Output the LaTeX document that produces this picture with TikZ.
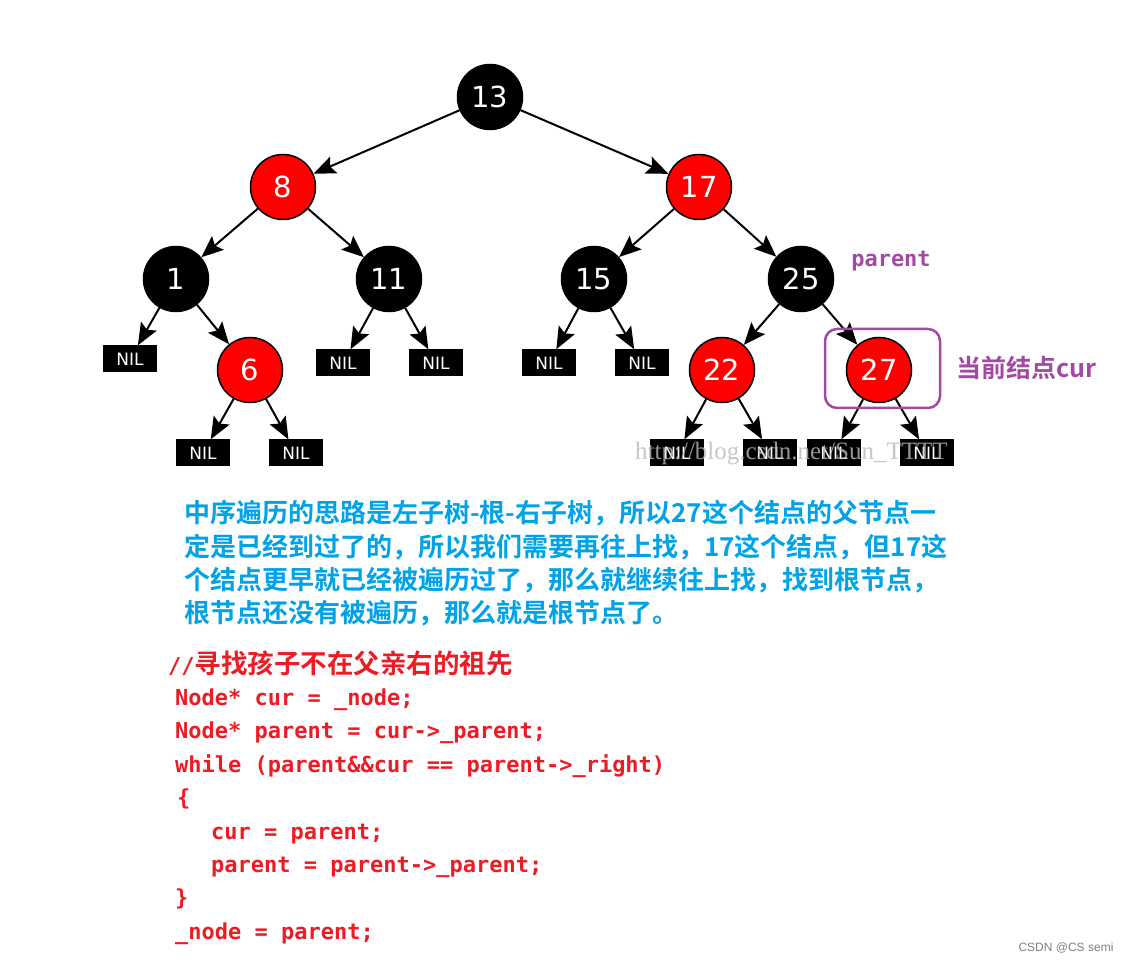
\documentclass[tikz,border=0pt]{standalone}
\usepackage{fontspec}
\usetikzlibrary{arrows.meta}
\newfontfamily\numfont{DejaVu Sans}
\newfontfamily\monof{DejaVu Sans Mono}
\newfontfamily\cjk{Noto Sans CJK SC}[BoldFont={Noto Sans CJK SC Bold}]
\newfontfamily\wmfont{Liberation Serif}
\newfontfamily\credfont{Liberation Sans}
\definecolor{nodered}{RGB}{255,0,0}
\definecolor{hlpurple}{RGB}{163,73,164}
\definecolor{txtblue}{RGB}{0,162,232}
\definecolor{codered}{RGB}{237,28,36}
\tikzset{
  rbnode/.style={circle, draw=black, line width=1.5pt, minimum size=65pt, inner sep=0pt,
    text=white, font=\numfont\fontsize{29}{29}\selectfont},
  rnode/.style={rbnode, fill=nodered},
  bnode/.style={rbnode, fill=black},
  nilbox/.style={rectangle, fill=black, minimum width=54pt, minimum height=27pt, inner sep=0pt,
    text=white, font=\numfont\fontsize{17}{17}\selectfont},
  arr/.style={-{Stealth[length=22pt,width=18pt,inset=4pt]}, line width=2pt},
  bluetxt/.style={anchor=base west, inner sep=0pt, text=txtblue, font=\cjk\bfseries\fontsize{26}{26}\selectfont},
  codetxt/.style={anchor=base west, inner sep=0pt, text=codered, font=\monof\bfseries\fontsize{22}{22}\selectfont},
}
\begin{document}
\begin{tikzpicture}[x=1pt,y=-1pt]
\useasboundingbox (0,0) rectangle (1136,965);
% tree nodes
\node[bnode] (n13) at (490,97) {13};
\node[rnode] (n8) at (283,187) {8};
\node[rnode] (n17) at (699,187) {17};
\node[bnode] (n1) at (176,279) {1};
\node[bnode] (n11) at (389,279) {11};
\node[bnode] (n15) at (594,279) {15};
\node[bnode] (n25) at (801,279) {25};
\node[rnode] (n6) at (250,370) {6};
\node[rnode] (n22) at (722,370) {22};
\node[rnode] (n27) at (879,370) {27};
% NIL leaves
\node[nilbox] (la) at (130,359) {NIL};
\node[nilbox] (lb) at (343,363) {NIL};
\node[nilbox] (lc) at (436,363) {NIL};
\node[nilbox] (ld) at (549,363) {NIL};
\node[nilbox] (le) at (642,363) {NIL};
\node[nilbox] (lf) at (203,453) {NIL};
\node[nilbox] (lg) at (296,453) {NIL};
\node[nilbox] (lh) at (677,453) {NIL};
\node[nilbox] (li) at (770,453) {NIL};
\node[nilbox] (lj) at (834,453) {NIL};
\node[nilbox] (lk) at (927,453) {NIL};
% edges
\draw[arr] (n13) -- (n8);
\draw[arr] (n13) -- (n17);
\draw[arr] (n8) -- (n1);
\draw[arr] (n8) -- (n11);
\draw[arr] (n17) -- (n15);
\draw[arr] (n17) -- (n25);
\draw[arr] (n1) -- (la);
\draw[arr] (n1) -- (n6);
\draw[arr] (n11) -- (lb);
\draw[arr] (n11) -- (lc);
\draw[arr] (n15) -- (ld);
\draw[arr] (n15) -- (le);
\draw[arr] (n6) -- (lf);
\draw[arr] (n6) -- (lg);
\draw[arr] (n25) -- (n22);
\draw[arr] (n25) -- (n27);
\draw[arr] (n22) -- (lh);
\draw[arr] (n22) -- (li);
\draw[arr] (n27) -- (lj);
\draw[arr] (n27) -- (lk);
% highlight
\node[draw=hlpurple, line width=2.5pt, rounded corners=12pt, minimum width=115pt, minimum height=79pt, inner sep=0pt] (hl) at (882.5,368.5) {};
\node[text=hlpurple, font=\monof\bfseries\fontsize{22}{22}\selectfont, inner sep=0pt] (lpar) at (891,261) {parent};
\node[text=hlpurple, font=\cjk\bfseries\fontsize{25}{25}\selectfont, inner sep=0pt] (lcur) at (1026,368) {当前结点cur};
% watermark
\node[text=gray!55, opacity=0.8, font=\wmfont\fontsize{25}{25}\selectfont, anchor=base west, inner sep=0pt] (wm) at (635,460) {http://blog.csdn.net/Sun\_TTTT};
% blue paragraph
\node[bluetxt] (p1) at (184,522) {中序遍历的思路是左子树-根-右子树，所以27这个结点的父节点一};
\node[bluetxt] (p2) at (184,556) {定是已经到过了的，所以我们需要再往上找，17这个结点，但17这};
\node[bluetxt] (p3) at (184,589) {个结点更早就已经被遍历过了，那么就继续往上找，找到根节点，};
\node[bluetxt] (p4) at (184,622) {根节点还没有被遍历，那么就是根节点了。};
% code
\node[anchor=base west, inner sep=0pt, text=codered] (c0) at (168,673) {\monof\bfseries\fontsize{22}{22}\selectfont //\cjk\bfseries\fontsize{26.5}{26.5}\selectfont 寻找孩子不在父亲右的祖先};
\node[codetxt] (c1) at (175,705) {Node* cur = \_node;};
\node[codetxt] (c2) at (175,738) {Node* parent = cur->\_parent;};
\node[codetxt] (c3) at (175,772) {while (parent\&\&cur == parent->\_right)};
\node[codetxt] (c4) at (177,805) {\{};
\node[codetxt] (c5) at (211,839) {cur = parent;};
\node[codetxt] (c6) at (211,872) {parent = parent->\_parent;};
\node[codetxt] (c7) at (175,905) {\}};
\node[codetxt] (c8) at (175,939) {\_node = parent;};
% credit
\node[text=gray, font=\credfont\fontsize{12}{12}\selectfont, inner sep=0pt] (cred) at (1066,948) {CSDN @CS semi};
\end{tikzpicture}
\end{document}
